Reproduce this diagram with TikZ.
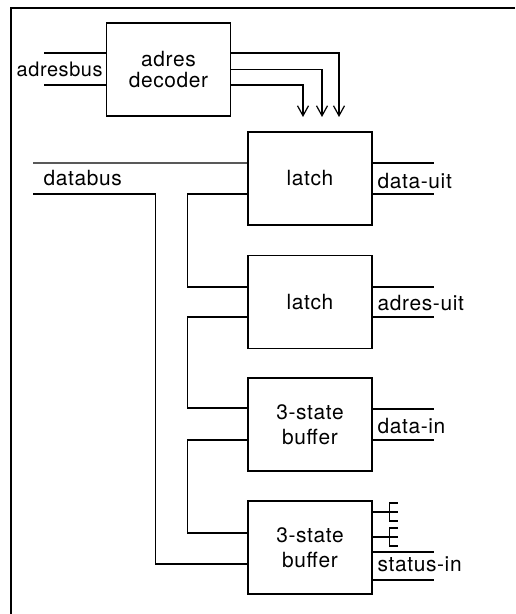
\documentclass[tikz,border=0pt]{standalone}
\usepackage{fontspec}
\setmainfont{TeX Gyre Heros}[LetterSpace=3]
\usetikzlibrary{arrows.meta}
\begin{document}
\begin{tikzpicture}[x=1bp,y=-1bp,line width=1.3bp,
  blk/.style={draw,minimum width=124bp,minimum height=93bp,inner sep=0pt,align=center,
    font=\fontsize{21}{25}\selectfont},
  lbl/.style={anchor=base west,inner sep=0pt,font=\fontsize{21}{24}\selectfont},
  arr/.style={-{Straight Barb[length=10bp,width=11bp,line width=1.2bp]}},
  frame/.style={line width=2.6bp}]
\useasboundingbox (0,0) rectangle (516,614);
% frame
\draw[frame] (515,8) -- (11,8) -- (11,614);
% blocks
\node[blk,font=\fontsize{21}{21}\selectfont] (dec) at (168.5,69.5) {adres\\decoder};
\node[blk] (l1) at (310,178.5) {latch};
\node[blk] (l2) at (310,302) {latch};
\node[blk] (b1) at (310,424.5) {3-state\\buffer};
\node[blk] (b2) at (310,547.5) {3-state\\buffer};
% labels
\node[lbl,font=\fontsize{20}{24}\selectfont] (adresbus) at (16,77) {adresbus};
\node[lbl] (databus) at (43,185) {databus};
\node[lbl] (dataout) at (377,188) {data-uit};
\node[lbl] (adresout) at (377,310) {adres-uit};
\node[lbl] (datain) at (377,433) {data-in};
\node[lbl] (statusin) at (377,571) {status-in};
% address bus into decoder
\coordinate (ab1) at (44,53);
\coordinate (ab2) at (44,85);
\draw (ab1) -- (dec.west |- ab1);
\draw (ab2) -- (dec.west |- ab2);
% decoder outputs
\coordinate (t1) at (339,117);
\coordinate (t2) at (322,117);
\coordinate (t3) at (303,117);
\draw[arr] ([yshift=16.5bp]dec.east) -| (t1);
\draw[arr] (dec.east) -| (t2);
\draw[arr] ([yshift=-15.5bp]dec.east) -| (t3);
% outputs on the right
\draw ([yshift=15.5bp]l1.east) -- ++(61,0);
\draw ([yshift=-15.5bp]l1.east) -- ++(61,0);
\draw ([yshift=15bp]l2.east) -- ++(61,0);
\draw ([yshift=-15bp]l2.east) -- ++(61,0);
\draw ([yshift=15.5bp]b1.east) -- ++(61,0);
\draw ([yshift=-15.5bp]b1.east) -- ++(61,0);
\draw ([yshift=-4.5bp]b2.east) -- ++(61,0);
\draw ([yshift=-32.5bp]b2.east) -- ++(61,0);
% E-shaped stubs
\draw ([yshift=35.5bp]b2.east) -- ++(25,0) ++(0,-9) -- ++(-8,0) -- ++(0,18) -- ++(8,0);
\draw ([yshift=10.5bp]b2.east) -- ++(25,0) ++(0,-9) -- ++(-8,0) -- ++(0,18) -- ++(8,0);
% data bus
\coordinate (dbA) at (33,163);
\coordinate (dbB) at (33,194);
\draw (dbA) -- ([yshift=15.5bp]l1.west);
\draw (dbB) -| ([xshift=-92bp,yshift=-16.5bp]b2.west) -- ([yshift=-16.5bp]b2.west);
% chained connections
\draw ([yshift=-15.5bp]l1.west) -- ++(-60,0) |- ([yshift=15bp]l2.west);
\draw ([yshift=-15bp]l2.west) -- ++(-60,0) |- ([yshift=16.5bp]b1.west);
\draw ([yshift=-15.5bp]b1.west) -- ++(-60,0) |- ([yshift=14.5bp]b2.west);
\end{tikzpicture}
\end{document}
